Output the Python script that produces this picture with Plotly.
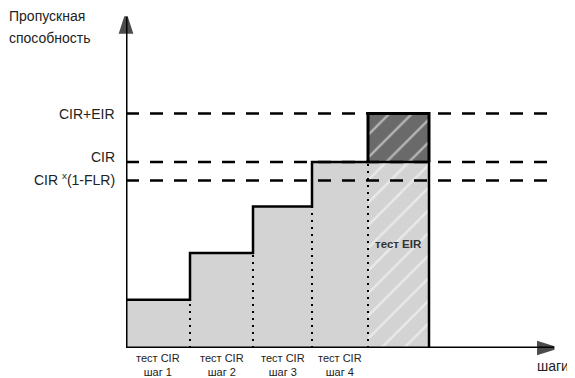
import plotly.graph_objects as go

# Данные (условные единицы: CIR = 100)
cir = 100
eir = 26
flr = 0.1
step_levels = [26, 51, 76, 100]          # пропускная способность на шагах теста CIR
step_edges = [0, 64, 127, 186, 242, 303]  # границы шагов по оси "шаги"
step_labels = ['тест CIR<br>шаг 1', 'тест CIR<br>шаг 2', 'тест CIR<br>шаг 3', 'тест CIR<br>шаг 4']
level_labels = ['CIR+EIR', 'CIR', 'CIR <sup>x</sup>(1-FLR)']

x_max = 430
y_max = 179
FONT = 'Liberation Sans, Arial, sans-serif'
LIGHT = '#d3d3d3'
DARK = '#6a6a6a'

fig = go.Figure()

# Ступени теста CIR
centers = [(step_edges[i] + step_edges[i + 1]) / 2 for i in range(4)]
widths = [step_edges[i + 1] - step_edges[i] for i in range(4)]
fig.add_trace(go.Bar(
    x=centers, y=step_levels, width=widths,
    marker=dict(color=LIGHT, line=dict(width=0)),
    hoverinfo='skip'
))

# Тест EIR: нижняя часть (до CIR) и верхняя (EIR)
eir_center = (step_edges[4] + step_edges[5]) / 2
eir_width = step_edges[5] - step_edges[4]
hatch = dict(shape='/', fgcolor='white', size=16, solidity=0.15)
fig.add_trace(go.Bar(
    x=[eir_center], y=[cir], width=[eir_width],
    marker=dict(color=LIGHT, line=dict(width=0), pattern=dict(hatch, bgcolor=LIGHT)),
    hoverinfo='skip'
))
fig.add_trace(go.Bar(
    x=[eir_center], y=[eir], base=[cir], width=[eir_width],
    marker=dict(color=DARK, line=dict(width=0), pattern=dict(hatch, bgcolor=DARK)),
    hoverinfo='skip'
))

# Пунктирные уровни
levels = [cir + eir, cir, cir * (1 - flr)]
for lvl in levels:
    fig.add_trace(go.Scatter(
        x=[0, 424], y=[lvl, lvl], mode='lines',
        line=dict(color='black', width=2.5, dash='13px,11px'),
        hoverinfo='skip'
    ))

# Точечные границы шагов
for i in range(4):
    fig.add_trace(go.Scatter(
        x=[step_edges[i + 1]] * 2, y=[0, step_levels[i]], mode='lines',
        line=dict(color='black', width=2, dash='2px,5px'),
        hoverinfo='skip'
    ))

# Контур ступеней
xs = [0] + step_edges[1:4] + [step_edges[5], step_edges[5]]
ys = step_levels + [step_levels[-1], 0]
fig.add_trace(go.Scatter(
    x=xs, y=ys, mode='lines', line=dict(color='black', width=2.5, shape='hv'),
    hoverinfo='skip'
))
# Контур блока EIR
fig.add_trace(go.Scatter(
    x=[step_edges[4], step_edges[4], step_edges[5], step_edges[5]],
    y=[cir, cir + eir, cir + eir, cir], mode='lines',
    line=dict(color='black', width=3), hoverinfo='skip'
))

# Оси со стрелками
fig.add_trace(go.Scatter(
    x=[0, 0], y=[0, y_max - 1], mode='lines+markers',
    line=dict(color='black', width=3),
    marker=dict(symbol='arrow', size=[0, 16], color='black', angle=0,
                line=dict(color='black', width=3.5)),
    cliponaxis=False, hoverinfo='skip'
))
fig.add_trace(go.Scatter(
    x=[0, x_max - 2], y=[0, 0], mode='lines+markers',
    line=dict(color='black', width=3),
    marker=dict(symbol='arrow', size=[0, 16], color='black', angle=90,
                line=dict(color='black', width=3.5)),
    cliponaxis=False, hoverinfo='skip'
))

annotations = []
# Подписи уровней (слева от оси)
for lbl, lvl, shift in zip(level_labels, levels, [0, 5, 2]):
    annotations.append(dict(
        x=-9 / x_max, y=lvl, xref='paper', yref='y', text=lbl, showarrow=False,
        xanchor='right', yanchor='middle', yshift=shift,
        font=dict(family=FONT, size=14, color='#222')
    ))
# Подписи шагов
for c, lbl in zip(centers, step_labels):
    annotations.append(dict(
        x=c, y=0, xref='x', yref='y', text=lbl, showarrow=False,
        xanchor='center', yanchor='top', yshift=-2,
        font=dict(family=FONT, size=11, color='#222')
    ))
annotations.append(dict(
    x=eir_center, y=56, xref='x', yref='y', text='<b>тест EIR</b>', showarrow=False,
    font=dict(family=FONT, size=11.5, color='#333')
))
# Подпись оси Y (две строки)
for txt, py in zip(['Пропускная', 'способность'], [0.997, 0.931]):
    annotations.append(dict(
        x=-118 / x_max, y=py, xref='paper', yref='paper', text=txt,
        showarrow=False, xanchor='left', yanchor='middle', borderpad=0,
        font=dict(family=FONT, size=14, color='#222')
    ))
annotations.append(dict(
    x=x_max - 21, y=0, xref='x', yref='y', text='шаги', showarrow=False,
    xanchor='left', yanchor='top', yshift=-8,
    font=dict(family=FONT, size=14, color='#222')
))

fig.update_layout(
    width=567, height=370,
    margin=dict(l=118, r=19, t=7, b=30),
    paper_bgcolor='white', plot_bgcolor='white',
    barmode='overlay', bargap=0, showlegend=False,
    xaxis=dict(range=[0, x_max], visible=False, fixedrange=True),
    yaxis=dict(range=[0, y_max], visible=False, fixedrange=True),
    annotations=annotations
)

fig.write_html('out.html')
